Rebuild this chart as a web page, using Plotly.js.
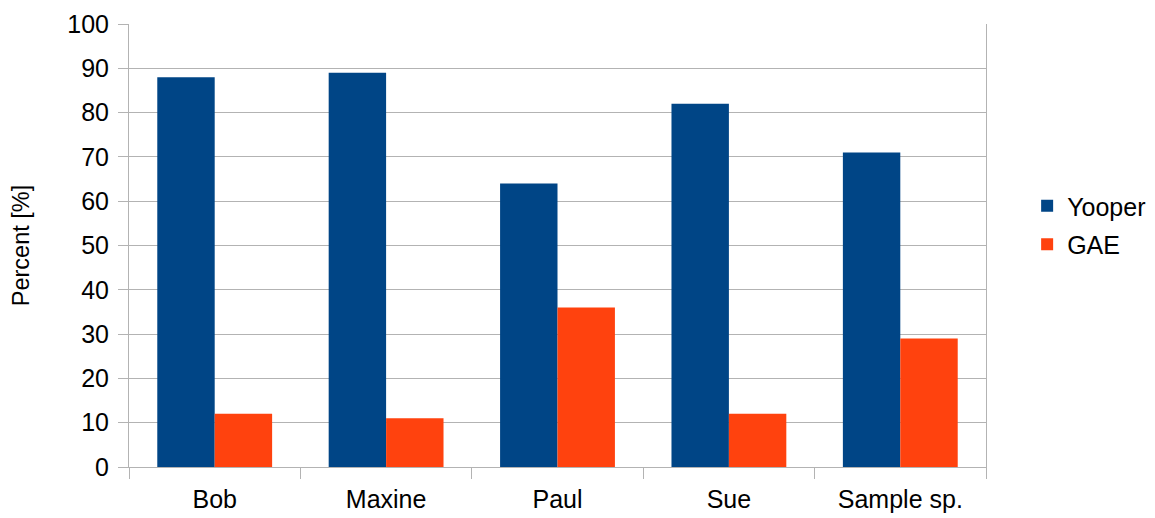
<!DOCTYPE html>
<html>
<head>
<meta charset="utf-8">
<script src="https://cdn.plot.ly/plotly-3.0.1.min.js"></script>
<style>html,body{margin:0;padding:0;background:#fff}#chart{width:1155px;height:518px}</style>
</head>
<body>
<div id="chart"></div>
<script>
var categories = ["Bob", "Maxine", "Paul", "Sue", "Sample sp."];
var yooper = [88, 89, 64, 82, 71];
var gae = [12, 11, 36, 12, 29];
var yTicks = [0, 10, 20, 30, 40, 50, 60, 70, 80, 90, 100];

var fam = "'Liberation Sans', Arial, sans-serif";
var font = {family: fam, size: 25, color: "#000"};
var grid = "#b3b3b3";

var traces = [
  {type: "bar", name: "Yooper", x: categories, y: yooper, marker: {color: "#004586"}, legendgroup: "a"},
  {type: "bar", name: "GAE", x: categories, y: gae, marker: {color: "#ff420e"}, legendgroup: "b"}
];

var layout = {
  width: 1155, height: 518,
  margin: {l: 129, r: 169, t: 24, b: 51, autoexpand: false},
  paper_bgcolor: "#fff", plot_bgcolor: "#fff",
  font: font,
  barmode: "group", bargap: 0.33, bargroupgap: 0,
  showlegend: true,
  legend: {x: 1.048, y: 0.546, xanchor: "left", yanchor: "middle", font: font, tracegroupgap: 3, bgcolor: "rgba(0,0,0,0)"},
  xaxis: {
    showline: true, linecolor: grid, linewidth: 1, mirror: false,
    ticks: "outside", tickson: "boundaries", ticklen: 11, tickcolor: grid,
    showgrid: false, tickfont: font, zeroline: false, ticklabelstandoff: 10
  },
  yaxis: {
    range: [0, 100], tickvals: yTicks, ticktext: yTicks.map(String),
    showline: true, linecolor: grid, linewidth: 1, mirror: true,
    ticks: "outside", ticklen: 10, tickcolor: grid,
    showgrid: true, gridcolor: grid, gridwidth: 1, zeroline: false,
    tickfont: font, ticklabelstandoff: 4,
    title: {text: "Percent [%]", font: {family: fam, size: 23.5, color: "#000"}, standoff: 31}
  }
};

Plotly.newPlot("chart", traces, layout, {staticPlot: true, displayModeBar: false});
</script>
</body>
</html>
